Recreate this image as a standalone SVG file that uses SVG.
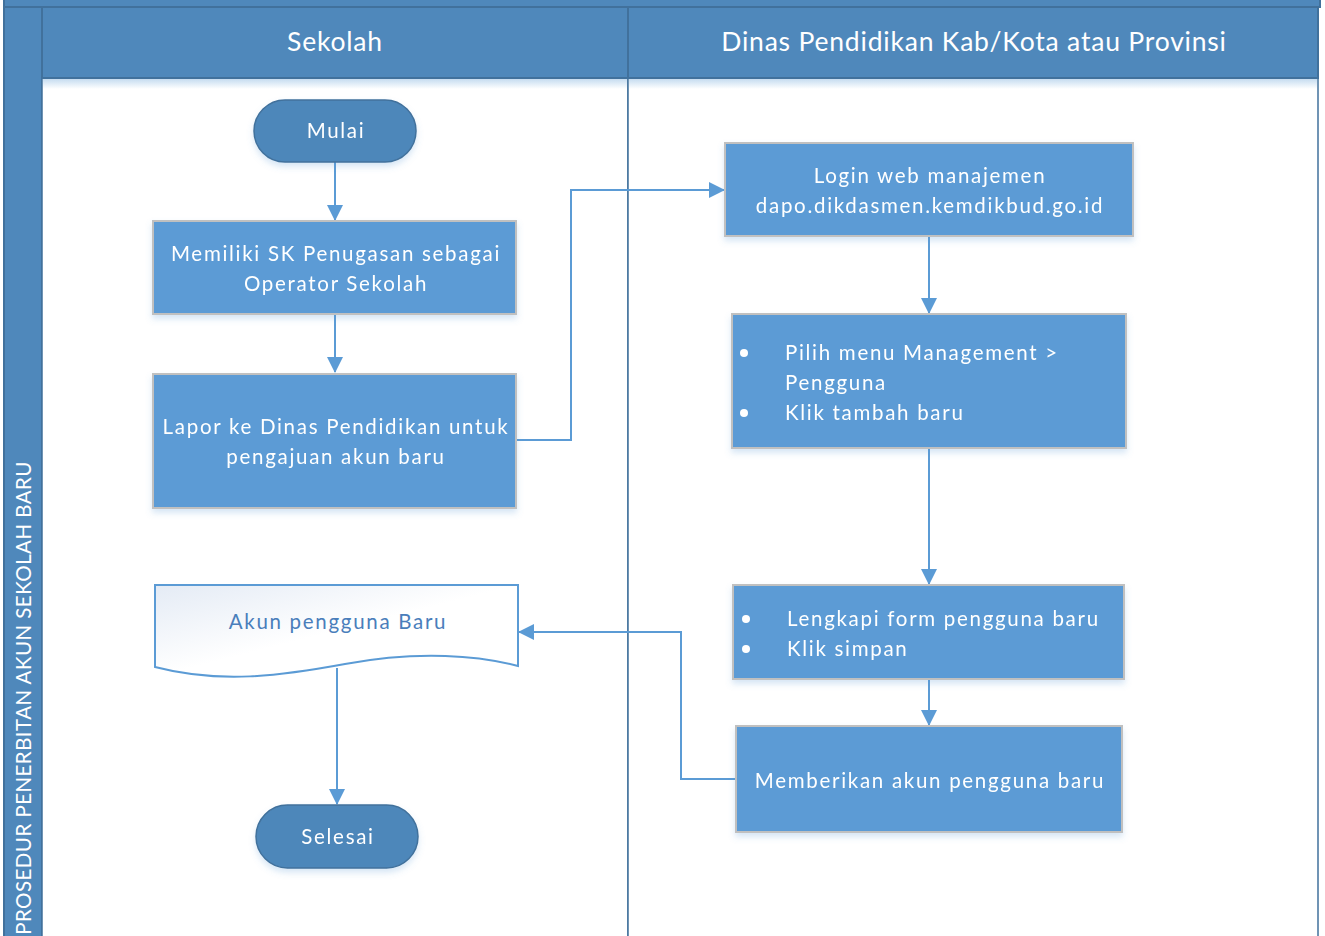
<svg xmlns="http://www.w3.org/2000/svg" width="1325" height="936" viewBox="0 0 1325 936">
<style>
.hdr{fill:#4f88bb;stroke:#41719c;stroke-width:2}
.ht{font-family:Lato,"Liberation Sans",sans-serif;font-size:26.5px;fill:#ffffff;text-anchor:middle;letter-spacing:0.8px}
.term{fill:#4e87ba;stroke:#41719c;stroke-width:1.5}
.box{fill:#5b9bd5;stroke:#c0c0c0;stroke-width:2}
.t{font-family:Lato,"Liberation Sans",sans-serif;font-size:20.5px;fill:#ffffff;letter-spacing:1.7px}
.c{text-anchor:middle}
.con{fill:none;stroke:#5b9bd5;stroke-width:2}
</style>
<defs>
<filter id="sh" x="-10%" y="-10%" width="120%" height="130%">
<feDropShadow dx="0" dy="4" stdDeviation="3" flood-color="#5b9bd5" flood-opacity="0.25"/>
</filter>
<linearGradient id="doc" x1="0" y1="0" x2="1" y2="1">
<stop offset="0" stop-color="#e4ebf5"/>
<stop offset="0.5" stop-color="#ffffff"/>
<stop offset="1" stop-color="#ffffff"/>
</linearGradient>
<linearGradient id="hs" x1="0" y1="0" x2="0" y2="1">
<stop offset="0" stop-color="#5b9bd5" stop-opacity="0.35"/>
<stop offset="1" stop-color="#5b9bd5" stop-opacity="0"/>
</linearGradient>
<marker id="ah" markerWidth="16" markerHeight="16" viewBox="0 0 16 16" refX="15" refY="8" orient="auto" markerUnits="userSpaceOnUse">
<path d="M0,0 L16,8 L0,16 Z" fill="#5b9bd5"/>
</marker>
</defs>
<rect x="0" y="0" width="1325" height="936" fill="#ffffff"/>
<g id="pool">
<rect x="4" y="-2" width="1316" height="9" class="hdr"/>
<rect x="4" y="7" width="38" height="935" class="hdr"/>
<text class="ht" transform="translate(31,698) rotate(-90)" style="font-size:20.5px;letter-spacing:0.45px">PROSEDUR PENERBITAN AKUN SEKOLAH BARU</text>
</g>
<g id="lane-sekolah">
<rect x="42" y="78" width="586" height="870" fill="#ffffff" stroke="#41719c" stroke-width="1.5"/>
<rect x="43" y="79" width="584" height="10" fill="url(#hs)"/>
<rect x="42" y="7" width="586" height="71" class="hdr"/>
<text class="ht" x="335" y="51">Sekolah</text>
</g>
<g id="lane-dinas">
<rect x="628" y="78" width="690" height="870" fill="#ffffff" stroke="#41719c" stroke-width="1.5"/>
<rect x="629" y="79" width="688" height="10" fill="url(#hs)"/>
<rect x="628" y="7" width="690" height="71" class="hdr"/>
<text class="ht" x="974" y="51">Dinas Pendidikan Kab/Kota atau Provinsi</text>
</g>
<g id="connectors">
<path class="con" d="M335,162 L335,220" marker-end="url(#ah)"/>
<path class="con" d="M335,314 L335,372" marker-end="url(#ah)"/>
<path class="con" d="M516,440 L571,440 L571,190 L724,190" marker-end="url(#ah)"/>
<path class="con" d="M929,236 L929,313" marker-end="url(#ah)"/>
<path class="con" d="M929,448 L929,584" marker-end="url(#ah)"/>
<path class="con" d="M929,679 L929,725" marker-end="url(#ah)"/>
<path class="con" d="M736,779 L681,779 L681,632 L519,632" marker-end="url(#ah)"/>
<path class="con" d="M337,668 L337,804" marker-end="url(#ah)"/>
</g>
<g id="mulai" filter="url(#sh)">
<rect x="254" y="100" width="162" height="62" rx="31" class="term"/>
<text class="t c" x="336" y="138">Mulai</text>
</g>
<g id="sk" filter="url(#sh)">
<rect x="153" y="221" width="363" height="93" class="box"/>
<text class="t c" x="336" y="261">Memiliki SK Penugasan sebagai</text>
<text class="t c" x="336" y="291">Operator Sekolah</text>
</g>
<g id="lapor" filter="url(#sh)">
<rect x="153" y="374" width="363" height="134" class="box"/>
<text class="t c" x="336" y="434">Lapor ke Dinas Pendidikan untuk</text>
<text class="t c" x="336" y="464">pengajuan akun baru</text>
</g>
<g id="akun">
<path d="M155,585 L518,585 L518,666 C480,656 420,650 345,664 C280,676 220,684 155,667 Z" fill="url(#doc)" stroke="#5b9bd5" stroke-width="2"/>
<text class="t c" x="338" y="629" style="fill:#4a7ebb">Akun pengguna Baru</text>
</g>
<g id="selesai" filter="url(#sh)">
<rect x="256" y="805" width="162" height="63" rx="31.5" class="term"/>
<text class="t c" x="338" y="844">Selesai</text>
</g>
<g id="login" filter="url(#sh)">
<rect x="725" y="143" width="408" height="93" class="box"/>
<text class="t c" x="930" y="183">Login web manajemen</text>
<text class="t c" x="930" y="213">dapo.dikdasmen.kemdikbud.go.id</text>
</g>
<g id="pilih" filter="url(#sh)">
<rect x="732" y="314" width="394" height="134" class="box"/>
<circle cx="744" cy="353" r="4" fill="#ffffff"/>
<circle cx="744" cy="413" r="4" fill="#ffffff"/>
<text class="t" x="785" y="360">Pilih menu Management &gt;</text>
<text class="t" x="785" y="390">Pengguna</text>
<text class="t" x="785" y="420">Klik tambah baru</text>
</g>
<g id="lengkapi" filter="url(#sh)">
<rect x="733" y="585" width="391" height="94" class="box"/>
<circle cx="746" cy="619" r="4" fill="#ffffff"/>
<circle cx="746" cy="649" r="4" fill="#ffffff"/>
<text class="t" x="787" y="626">Lengkapi form pengguna baru</text>
<text class="t" x="787" y="656">Klik simpan</text>
</g>
<g id="memberikan" filter="url(#sh)">
<rect x="736" y="726" width="386" height="106" class="box"/>
<text class="t c" x="930" y="788">Memberikan akun pengguna baru</text>
</g>
</svg>
